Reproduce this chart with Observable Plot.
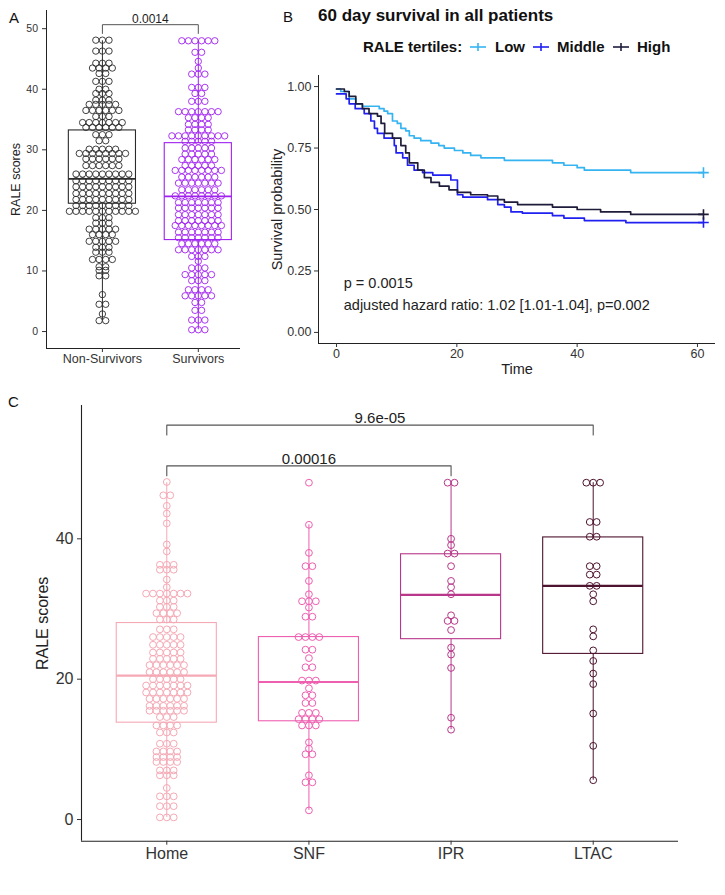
<!DOCTYPE html>
<html><head><meta charset="utf-8">
<script src="https://cdn.jsdelivr.net/npm/d3@7"></script>
<script src="https://cdn.jsdelivr.net/npm/@observablehq/plot@0.6"></script>
<style>
body{margin:0;background:#fff;font-family:"Liberation Sans",Arial,sans-serif;}
#root{position:relative;width:725px;height:895px;overflow:hidden;background:#fff;}
#root svg{position:absolute;}
.t{position:absolute;white-space:nowrap;color:#111;line-height:1;}
</style></head><body><div id="root"></div>
<script>
// ---------------- DATA ----------------
// Panel A: dotplot rows [RALE score bin, number of patients]
const groupsA = ["Non-Survivors", "Survivors"];
const colorsA = ["#2b2b2b", "#A020F0"];
const nonSurvivorRows = [[48.1,3],[46.3,3],[44.3,3],[43.5,4],[42.6,2],[41.3,3],[40,2],[39.3,3],[38.2,3],[37.5,5],[36.5,6],[35.5,3],[34.5,7],[33.7,6],[32.5,3],[31.5,2],[30.1,5],[29.4,8],[28.5,6],[27.4,6],[26,9],[24.9,9],[23.9,9],[22.8,9],[21.8,9],[20.8,9],[19.85,11],[18.8,3],[17.9,3],[16.9,5],[16,4],[14.9,5],[13.9,3],[13.1,3],[11.9,4],[10.7,2],[10.1,2],[9.2,2],[6.1,1],[4.5,2],[2.9,1],[1.8,2]];
const survivorRows = [[48,6],[46.1,2],[44.6,1],[43.5,1],[42.5,3],[40.3,3],[39.3,2],[38,3],[36.3,7],[35.3,4],[34.2,4],[33.3,4],[32.3,9],[31.4,5],[30.3,5],[29.3,5],[28.4,6],[27.4,5],[26.6,8],[25.5,6],[24.5,7],[23.4,6],[22.4,8],[21.3,7],[20.4,7],[19.3,7],[18.3,7],[17.5,8],[16.4,7],[15.5,7],[14.5,6],[13.5,7],[12.4,3],[11.6,1],[10.5,3],[9.4,5],[8.4,3],[6.9,4],[5.9,5],[4.8,2],[3.5,2],[1.9,3],[0.3,3]];
const boxLoA = [1.8, 0.3];
const boxQ1A = [21.1, 15.1];
const boxMedA = [25.2, 22.3];
const boxQ3A = [33.2, 31.1];
const boxHiA = [48, 48];
const ticksA = [0, 10, 20, 30, 40, 50];
const bracketFromA = [0], bracketToA = [1], bracketYA = [50.66], bracketLabelA = ["0.0014"];

// Panel B: Kaplan-Meier step curves
const tertiles = ["Low", "Middle", "High"];
const tertileColors = ["#36B4F2", "#2020F0", "#1E1C3A"];
const lowT  = [0,0.7,2.1,3.2,4.3,7.1,7.9,8.5,9.3,10.1,10.7,11.5,12.1,12.9,14,15.7,17,17.9,19.6,21,22.3,24,27.9,35.9,37.8,40,41.2,48.9,61];
const lowS  = [0.99,0.98,0.95,0.93,0.92,0.91,0.90,0.89,0.86,0.85,0.83,0.82,0.80,0.79,0.78,0.77,0.76,0.75,0.74,0.73,0.72,0.71,0.70,0.69,0.68,0.67,0.66,0.65,0.65];
const midT  = [0,1.6,2.1,3.1,4.6,5.7,6.3,6.8,7.9,9.6,9.9,11,11.8,12.9,14.3,16,19,20.1,21,25.1,26.8,27.9,29,30.9,35.9,37.8,41.2,48.1,61];
const midS  = [0.97,0.95,0.93,0.91,0.89,0.86,0.83,0.81,0.79,0.76,0.73,0.71,0.68,0.66,0.65,0.64,0.62,0.56,0.55,0.54,0.52,0.51,0.49,0.485,0.475,0.465,0.455,0.447,0.447];
const highT = [0,1.3,2.1,3.2,4.3,5.4,6.8,7.4,8,9.3,10.7,11.5,12.1,13.5,14.6,15.7,17.1,18.7,20.1,22.3,25.1,26.8,27.9,30.1,35.9,40,43.9,48.9,61];
const highS = [0.99,0.98,0.96,0.93,0.91,0.89,0.88,0.85,0.81,0.79,0.76,0.73,0.69,0.66,0.63,0.61,0.595,0.58,0.57,0.56,0.555,0.54,0.53,0.52,0.51,0.50,0.49,0.48,0.48];
const ticksBx = [0, 20, 40, 60];
const ticksBy = [0, 0.25, 0.5, 0.75, 1];
const annTextB = ["p = 0.0015", "adjusted hazard ratio: 1.02 [1.01-1.04], p=0.002"];
const annXB = [1.2, 1.2];
const annYB = [0.2, 0.11];

// Panel C: discharge destination dotplots
const groupsC = ["Home", "SNF", "IPR", "LTAC"];
const colorsC = ["#F5A9B5", "#EE5FB0", "#B8378A", "#4E132E"];
const homeRows = [[48.1,1],[46.2,2],[44.7,1],[43.6,1],[42.2,1],[39.2,1],[38.2,1],[36.3,3],[35.6,3],[34.2,1],[33.1,1],[32.2,7],[31.2,3],[30.3,3],[29.4,4],[28.5,3],[27.1,3],[26,5],[24.9,5],[23.8,5],[22.9,5],[22,6],[21,6],[20,5],[19.1,7],[18.1,7],[17.2,6],[16.2,6],[15.5,6],[14.6,3],[13.4,4],[12.4,3],[10.8,3],[9.7,4],[8.9,4],[8.2,4],[7,3],[6.3,3],[4.5,1],[3.3,3],[1.9,3],[0.3,3]];
const snfRows = [[48,1],[42,1],[38,1],[36.1,2],[34,1],[32.1,1],[31.1,3],[30.2,1],[28.9,2],[26,4],[24.2,2],[23,1],[21.7,2],[19.8,3],[18.7,1],[17.7,2],[16.6,2],[15.2,3],[14.3,4],[13.4,3],[11,1],[10.1,1],[9.3,2],[6.3,1],[5.3,2],[1.3,1]];
const iprRows = [[48,2],[40,1],[39.1,1],[37.9,2],[36.1,1],[34,1],[33.1,1],[32.1,1],[29.1,1],[28.3,2],[27,1],[24.5,1],[23.5,1],[21.6,1],[14.5,1],[12.8,1]];
const ltacRows = [[48,3],[42.4,2],[40.3,2],[36.1,2],[34.9,2],[33.3,2],[32.1,1],[31.1,1],[27.1,1],[26.1,1],[24.1,1],[22.6,1],[20.8,1],[19.3,1],[15.1,1],[10.5,1],[5.6,1]];
const boxLoC = [0.3, 1.3, 12.8, 5.6];
const boxQ1C = [13.8, 14.0, 25.7, 23.6];
const boxMedC = [20.5, 19.6, 32.0, 33.3];
const boxQ3C = [28.0, 26.0, 37.8, 40.2];
const boxHiC = [48, 42, 48, 48];
const ticksC = [0, 20, 40];
const bracketFromC = [0, 0], bracketToC = [3, 2], bracketYC = [56.2, 50.4], bracketLabelC = ["9.6e-05", "0.00016"];

// ---------------- HELPERS ----------------
const FONT = '"Liberation Sans", Arial, sans-serif';
const root = document.getElementById("root");
function addText(txt, left, cy, size, opts = {}) {
  const d = document.createElement("div");
  d.className = "t";
  d.textContent = txt;
  d.style.left = left + "px";
  d.style.top = (cy - size * 0.56) + "px";
  d.style.fontSize = size + "px";
  if (opts.bold) d.style.fontWeight = "bold";
  if (opts.color) d.style.color = opts.color;
  root.appendChild(d);
  return d;
}
function place(svg, left, top) {
  svg.style.left = left + "px";
  svg.style.top = top + "px";
  root.appendChild(svg);
}
function dotRows(rows, idx, color, step) {
  const out = [];
  for (const [v, n] of rows) for (let k = 0; k < n; k++) out.push({x: idx + (k - (n - 1) / 2) * step, y: v, c: color});
  return out;
}
function boxes(lo, q1, med, q3, hi, colors) {
  return lo.map((_, i) => ({i, lo: lo[i], q1: q1[i], med: med[i], q3: q3[i], hi: hi[i], c: colors[i]}));
}
function bracketPaths(from, to, y, tick) {
  const out = [];
  from.forEach((f, j) => {
    out.push({x: f, y: y[j] - tick, b: j}, {x: f, y: y[j], b: j}, {x: to[j], y: y[j], b: j}, {x: to[j], y: y[j] - tick, b: j});
  });
  return out;
}
function boxMarks(data, half, medW) {
  return [
    Plot.ruleX(data, {x: "i", y1: "lo", y2: "q1", stroke: "c", strokeWidth: 1}),
    Plot.ruleX(data, {x: "i", y1: "q3", y2: "hi", stroke: "c", strokeWidth: 1}),
    Plot.rect(data, {x1: d => d.i - half, x2: d => d.i + half, y1: "q1", y2: "q3", stroke: "c", fill: "none", strokeWidth: 1.1}),
    Plot.ruleY(data, {y: "med", x1: d => d.i - half, x2: d => d.i + half, stroke: "c", strokeWidth: medW})
  ];
}
function yTitle(txt, dx, size) {
  return Plot.text([txt], {text: d => d, frameAnchor: "left", textAnchor: "middle", lineAnchor: "middle", rotate: -90, dx, fontSize: size, fill: "#222"});
}

// ---------------- PANEL A ----------------
{
  const w = 245, h = 380, ml = 46, mr = 5, mt = 10, mb = 32;
  const xDom = [-0.583, 1.44], yDom = [-2.8, 53];
  const px = (w - ml - mr) / (xDom[1] - xDom[0]);
  const dots = [...dotRows(nonSurvivorRows, 0, colorsA[0], 6.6 / px), ...dotRows(survivorRows, 1, colorsA[1], 6.6 / px)];
  const bx = boxes(boxLoA, boxQ1A, boxMedA, boxQ3A, boxHiA, colorsA);
  const br = bracketPaths(bracketFromA, bracketToA, bracketYA, 1.45);
  const svg = Plot.plot({
    width: w, height: h, marginLeft: ml, marginRight: mr, marginTop: mt, marginBottom: mb,
    x: {domain: xDom}, y: {domain: yDom}, color: {type: "identity"},
    style: {fontFamily: FONT, background: "transparent", overflow: "visible"},
    marks: [
      Plot.ruleX([xDom[0]], {stroke: "#222", strokeWidth: 1}),
      Plot.ruleY([yDom[0]], {stroke: "#222", strokeWidth: 1}),
      Plot.axisY({ticks: ticksA, tickSize: 4, tickPadding: 4.5, fontSize: 10.5, label: null, color: "#333"}),
      Plot.axisX({ticks: [0, 1], tickFormat: i => groupsA[i], tickSize: 4, tickPadding: 1.5, fontSize: 12.5, label: null, color: "#333"}),
      yTitle("RALE scores", -31, 12.5),
      ...boxMarks(bx, 0.35, 1.8),
      Plot.dot(dots, {x: "x", y: "y", r: 3.2, stroke: "c", fill: "none", strokeWidth: 0.9}),
      Plot.line(br, {x: "x", y: "y", z: "b", stroke: "#555", strokeWidth: 1}),
      Plot.text(bracketLabelA, {text: d => d, x: (d, j) => (bracketFromA[j] + bracketToA[j]) / 2, y: (d, j) => bracketYA[j], lineAnchor: "bottom", dy: -2, fontSize: 12, fill: "#222"})
    ]
  });
  place(svg, 0, 0);
  addText("A", 9, 18, 15);
}

// ---------------- PANEL B ----------------
{
  const w = 485, h = 380, ml = 78, mr = 10, mt = 75, mb = 37;
  const xDom = [-3, 63], yDom = [-0.045, 1.045];
  const series = [[lowT, lowS], [midT, midS], [highT, highS]];
  const pts = [];
  series.forEach(([T, S], k) => T.forEach((t, j) => pts.push({t, s: S[j], k, c: tertileColors[k]})));
  const ends = series.map(([T, S], k) => ({t: T[T.length - 1], s: S[S.length - 1], c: tertileColors[k]}));
  const ann = annTextB.map((s, j) => ({s, x: annXB[j], y: annYB[j]}));
  const svg = Plot.plot({
    width: w, height: h, marginLeft: ml, marginRight: mr, marginTop: mt, marginBottom: mb,
    x: {domain: xDom}, y: {domain: yDom}, color: {type: "identity"},
    style: {fontFamily: FONT, background: "transparent", overflow: "visible"},
    marks: [
      Plot.ruleX([xDom[0]], {stroke: "#222", strokeWidth: 1}),
      Plot.ruleY([yDom[0]], {stroke: "#222", strokeWidth: 1}),
      Plot.axisY({ticks: ticksBy, tickFormat: d3.format(".2f"), tickSize: 4, tickPadding: 3, fontSize: 12.5, label: null, color: "#333"}),
      Plot.axisX({ticks: ticksBx, tickSize: 4, tickPadding: 2, fontSize: 12.5, label: null, color: "#333"}),
      yTitle("Survival probability", -41, 14.5),
      Plot.text(["Time"], {text: d => d, frameAnchor: "bottom", textAnchor: "middle", lineAnchor: "middle", dy: 26, fontSize: 14.5, fill: "#222"}),
      Plot.line(pts, {x: "t", y: "s", z: "k", stroke: "c", strokeWidth: 1.7, curve: "step-after"}),
      Plot.dot(ends, {x: "t", y: "s", stroke: "c", symbol: "plus", r: 3.5, strokeWidth: 1.6}),
      Plot.text(ann, {x: "x", y: "y", text: "s", textAnchor: "start", fontSize: 14.5, fill: "#222"})
    ]
  });
  place(svg, 240, 0);
  addText("B", 283, 17, 15);
  addText("60 day survival in all patients", 318, 17, 17, {bold: true});
  addText("RALE tertiles:", 363, 47, 15, {bold: true});
  const symX = [470, 533, 613], txtX = [495, 557, 637];
  tertiles.forEach((name, k) => {
    const ns = "http://www.w3.org/2000/svg";
    const s = document.createElementNS(ns, "svg");
    s.setAttribute("width", 16); s.setAttribute("height", 12);
    s.style.left = symX[k] + "px"; s.style.top = "41px";
    s.innerHTML = `<line x1="0" x2="16" y1="6" y2="6" stroke="${tertileColors[k]}" stroke-width="1.6"/><line x1="8" x2="8" y1="2" y2="10" stroke="${tertileColors[k]}" stroke-width="1.6"/>`;
    root.appendChild(s);
    addText(name, txtX[k], 47, 15, {bold: true});
  });
}

// ---------------- PANEL C ----------------
{
  const w = 725, h = 505, ml = 81, mr = 47, mt = 15, mb = 54.3;
  const xDom = [-0.6, 3.6], yDom = [-3.09, 59];
  const px = (w - ml - mr) / (xDom[1] - xDom[0]);
  const step = 6.9 / px;
  const allRows = [homeRows, snfRows, iprRows, ltacRows];
  const dots = allRows.flatMap((rows, i) => dotRows(rows, i, colorsC[i], step));
  const bx = boxes(boxLoC, boxQ1C, boxMedC, boxQ3C, boxHiC, colorsC);
  const br = bracketPaths(bracketFromC, bracketToC, bracketYC, 1.4);
  const svg = Plot.plot({
    width: w, height: h, marginLeft: ml, marginRight: mr, marginTop: mt, marginBottom: mb,
    x: {domain: xDom}, y: {domain: yDom}, color: {type: "identity"},
    style: {fontFamily: FONT, background: "transparent", overflow: "visible"},
    marks: [
      Plot.ruleX([xDom[0]], {stroke: "#222", strokeWidth: 1.1}),
      Plot.ruleY([yDom[0]], {stroke: "#222", strokeWidth: 1.1}),
      Plot.axisY({ticks: ticksC, tickSize: 4, tickPadding: 4, fontSize: 16, label: null, color: "#333"}),
      Plot.axisX({ticks: [0, 1, 2, 3], tickFormat: i => groupsC[i], tickSize: 4, tickPadding: 2, fontSize: 16, label: null, color: "#333"}),
      yTitle("RALE scores", -39, 16),
      ...boxMarks(bx, 0.352, 2.2),
      Plot.dot(dots, {x: "x", y: "y", r: 3.4, stroke: "c", fill: "none", strokeWidth: 1}),
      Plot.line(br, {x: "x", y: "y", z: "b", stroke: "#555", strokeWidth: 1.1}),
      Plot.text(bracketLabelC, {text: d => d, x: (d, j) => (bracketFromC[j] + bracketToC[j]) / 2, y: (d, j) => bracketYC[j], lineAnchor: "bottom", dy: -2, fontSize: 15, fill: "#222"})
    ]
  });
  place(svg, 0, 390);
  addText("C", 8, 402, 15);
}
</script></body></html>
